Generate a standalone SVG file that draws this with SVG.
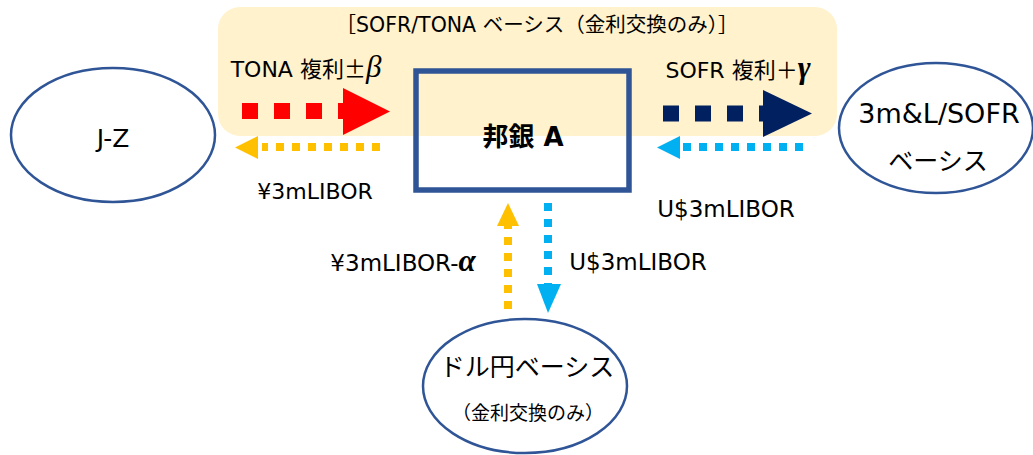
<svg xmlns="http://www.w3.org/2000/svg" width="1033" height="455" viewBox="0 0 1033 455">
  <style>
    text { font-family: "DejaVu Sans", "Noto Sans CJK JP", sans-serif; fill: #000; text-anchor: middle; }
    .node { fill: none; stroke: #2F5597; stroke-width: 2.5; }
    .greek { font-family: "Liberation Serif", "DejaVu Serif", serif; font-style: italic; font-size: 31px; }
    .cjk { font-family: "Noto Sans CJK JP", sans-serif; }
    .thick { fill: none; stroke-width: 16; stroke-dasharray: 16 16; }
    .thin { fill: none; stroke-width: 8; stroke-dasharray: 8 8; }
  </style>

  <!-- SOFR/TONA basis band -->
  <g id="band">
    <rect x="218" y="7" width="619" height="129" rx="22" fill="#FFF2CC"/>
    <text x="537" y="32" font-size="20.5">［SOFR/TONA ベーシス（金利交換のみ）］</text>
  </g>

  <g id="bank-a">
    <rect x="416" y="71" width="213" height="119" fill="none" stroke="#2F5597" stroke-width="5.5"/>
    <text x="523" y="146" font-size="26" font-weight="bold">邦銀 A</text>
  </g>

  <g id="jz">
    <ellipse class="node" cx="113" cy="135" rx="102" ry="67"/>
    <text x="113" y="147" font-size="25">J-Z</text>
  </g>

  <g id="sofr-basis">
    <ellipse class="node" cx="936" cy="128" rx="97" ry="65"/>
    <text x="939" y="123" font-size="27">3m&amp;L/SOFR</text>
    <text x="938" y="170" font-size="25">ベーシス</text>
  </g>

  <g id="usdjpy-basis">
    <ellipse class="node" cx="525" cy="386" rx="102" ry="67"/>
    <text x="527" y="376" font-size="25">ドル円ベーシス</text>
    <text x="528" y="420" font-size="19">（金利交換のみ）</text>
  </g>

  <g id="connectors">
    <!-- TONA leg: bank A pays to J-Z -->
    <line class="thick" x1="242" y1="111" x2="350" y2="111" stroke="#FF0000"/>
    <polygon points="343,88 390,111.5 343,135" fill="#FF0000"/>
    <!-- JPY LIBOR leg back to bank A side -->
    <line class="thin" x1="380" y1="147" x2="262" y2="147" stroke="#FFC000" stroke-dasharray="7 8.5"/>
    <polygon points="235,147.5 258,136 258,159" fill="#FFC000"/>

    <!-- SOFR leg: bank A pays to 3m&L/SOFR -->
    <line class="thick" x1="663" y1="113.5" x2="770" y2="113.5" stroke="#002060"/>
    <polygon points="763,90 812,113.5 763,137" fill="#002060"/>
    <!-- USD LIBOR leg -->
    <line class="thin" x1="803" y1="147" x2="683" y2="147" stroke="#00B0F0" stroke-dasharray="7 8.5"/>
    <polygon points="657,147.5 680,136 680,159" fill="#00B0F0"/>

    <!-- dollar/yen basis legs -->
    <line class="thin" x1="508" y1="309" x2="508" y2="226" stroke="#FFC000" stroke-dasharray="8 8"/>
    <polygon points="508,203 497,226 519,226" fill="#FFC000"/>
    <line class="thin" x1="548" y1="203" x2="548" y2="284" stroke="#00B0F0" stroke-dasharray="8 8"/>
    <polygon points="537,284 561,284 548,313" fill="#00B0F0"/>
  </g>

  <g id="labels">
    <text x="306" y="77" font-size="22">TONA 複利<tspan class="cjk">±</tspan><tspan class="greek">β</tspan></text>
    <text x="738" y="78" font-size="22">SOFR 複利＋<tspan class="greek" font-weight="bold">γ</tspan></text>
    <text x="315" y="199" font-size="22">¥3mLIBOR</text>
    <text x="726" y="217" font-size="23">U$3mLIBOR</text>
    <text x="403" y="271" font-size="23">¥3mLIBOR-<tspan class="greek" font-weight="bold">α</tspan></text>
    <text x="638" y="270" font-size="23">U$3mLIBOR</text>
  </g>
</svg>
